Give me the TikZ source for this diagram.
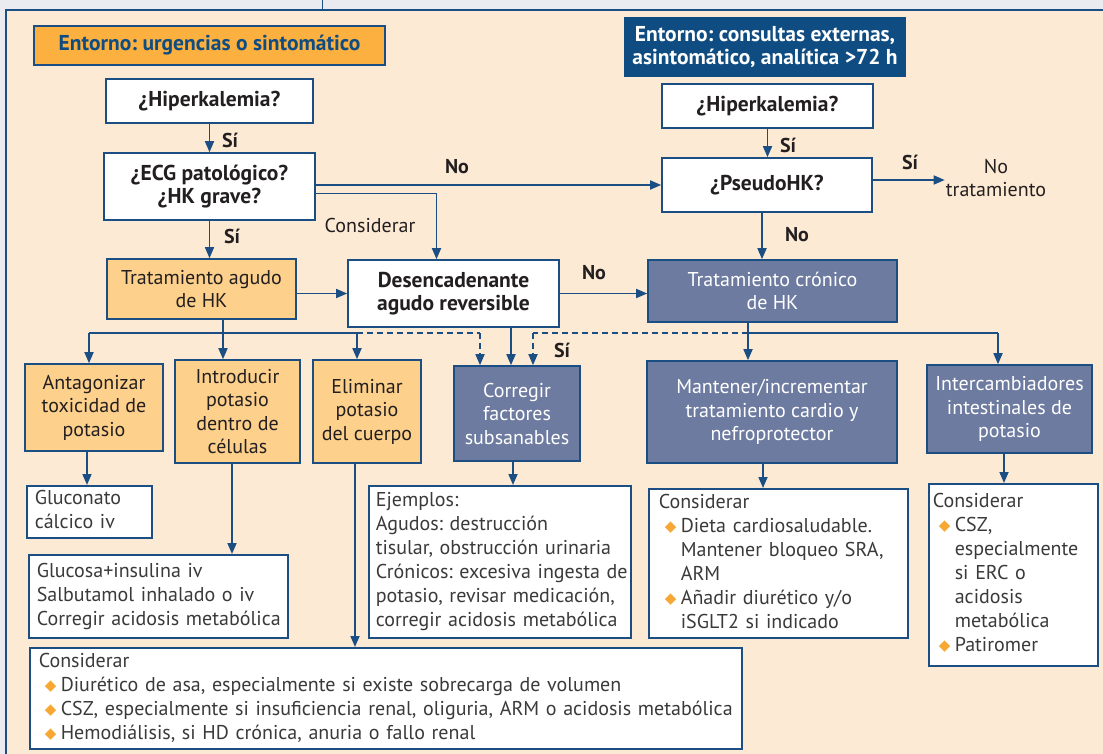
\documentclass[tikz,border=0pt]{standalone}
\usepackage{fontspec}
\setmainfont{PT Sans}
\newfontfamily\symfont{DejaVu Sans}
\usetikzlibrary{arrows.meta,calc}
\definecolor{bl}{HTML}{1B4F83}
\definecolor{bgc}{HTML}{FDEAD4}
\definecolor{greyc}{HTML}{E9EBF0}
\definecolor{hdro}{HTML}{FBB040}
\definecolor{lor}{HTML}{FDD08B}
\definecolor{dkb}{HTML}{0F4C81}
\definecolor{slate}{HTML}{6E7BA1}
\definecolor{bulc}{HTML}{F7A733}
\definecolor{txt}{HTML}{231F20}
\definecolor{ltxt}{HTML}{3A3A3A}
\frenchspacing
\newcommand\bul{\hspace*{6pt}\makebox[16pt][l]{\raisebox{1pt}{\symfont\fontsize{15}{15}\selectfont\color{bulc}◆}}}
\newcommand\ind{\hspace*{22pt}}
\newcommand\fs{\fontsize{20}{23.5}\selectfont}
\newcommand\fl{\fontsize{20}{24}\selectfont}
\newcommand\fb{\fontsize{21.5}{23.5}\selectfont\bfseries}
\begin{document}
\begin{tikzpicture}[x=1pt,y=-1pt,
  box/.style={draw=bl, line width=1.6pt, inner sep=2pt, align=center, font=\fs},
  wbox/.style={box, fill=white, text=txt, font=\fb},
  obox/.style={box, fill=lor, text=txt},
  sbox/.style={box, fill=slate, text=white},
  lbox/.style={draw=bl, line width=1.6pt, fill=white, text=ltxt, align=left, anchor=north west, inner ysep=2pt, font=\fl},
  arr/.style={draw=bl, line width=1.7pt, -{Triangle[length=11pt,width=9pt]}},
  ln/.style={draw=bl, line width=1.7pt},
  dsh/.style={draw=bl, line width=1.7pt, dash pattern=on 6pt off 4pt},
  lab/.style={font=\fontsize{20}{24}\selectfont\bfseries, text=txt, inner sep=0pt},
  rlab/.style={font=\fs, text=txt, inner sep=0pt}
]
\useasboundingbox (0,0) rectangle (1103,754);
% background
\fill[greyc] (0,0) rectangle (1103,754);
\draw[bl, line width=1pt] (322,0) -- (322,10);
\filldraw[fill=bgc, draw=bl, line width=2.5pt] (6,10) rectangle (1115,770);

% headers
\node[box, fill=hdro, text=dkb, font=\fb, minimum width=351pt, minimum height=39pt] (hdrL) at (209.5,45.5) {Entorno: urgencias o sintomático};
\node[box, draw=none, fill=dkb, text=white, font=\fb, minimum width=282pt, minimum height=60pt] (hdrR) at (765,47) {Entorno: consultas externas,\\asintomático, analítica >72 h};

% decision boxes
\node[wbox, minimum width=207pt, minimum height=44pt] (hipL) at (209.5,101) {¿Hiperkalemia?};
\node[wbox, minimum width=211pt, minimum height=67pt] (ecg) at (209.5,186.5) {¿ECG patológico?\\¿HK grave?};
\node[wbox, minimum width=211pt, minimum height=44pt] (hipR) at (767.5,106) {¿Hiperkalemia?};
\node[wbox, minimum width=210pt, minimum height=54pt] (pseudo) at (767,185) {¿PseudoHK?};
\node[rlab, align=center, inner sep=1pt] (notrat) at (996,178) {No\\tratamiento};

\node[obox, minimum width=189pt, minimum height=60pt] (agudo) at (201.5,289) {Tratamiento agudo\\de HK};
\node[wbox, minimum width=211pt, minimum height=67pt] (desenc) at (453.5,293.5) {Desencadenante\\agudo reversible};
\node[sbox, minimum width=249pt, minimum height=62pt] (cronico) at (772.5,291) {Tratamiento crónico\\de HK};

\node[obox, minimum width=138pt, minimum height=87pt] (antag) at (94,407.5) {Antagonizar\\toxicidad de\\potasio};
\node[obox, minimum width=125pt, minimum height=103pt] (intro) at (237.5,411.5) {Introducir\\potasio\\dentro de\\células};
\node[obox, minimum width=108pt, minimum height=103pt] (elim) at (367,411.5) {Eliminar\\potasio\\del cuerpo};
\node[sbox, minimum width=126pt, minimum height=95pt] (correg) at (517,413.5) {Corregir\\factores\\subsanables};
\node[sbox, minimum width=250pt, minimum height=102pt] (mant) at (772,412) {Mantener/incrementar\\tratamiento cardio y\\nefroprotector};
\node[sbox, minimum width=165pt, minimum height=88pt] (inter) at (1009.5,409) {Intercambiadores\\intestinales de\\potasio};

% list boxes
\node[lbox, inner xsep=8pt, text width=109pt, minimum height=49pt] (gluc) at (26,485) {\begin{tabular}{@{}l@{}}Gluconato\\cálcico iv\end{tabular}};
\node[lbox, inner xsep=8pt, text width=243pt, minimum height=83pt] (glucosa) at (28,554) {\begin{tabular}{@{}l@{}}Glucosa+insulina iv\\Salbutamol inhalado o iv\\Corregir acidosis metabólica\end{tabular}};
\node[lbox, inner xsep=7pt, text width=248pt, minimum height=152pt] (ejem) at (368,485) {\begin{tabular}{@{}l@{}}Ejemplos:\\Agudos: destrucción\\tisular, obstrucción urinaria\\Crónicos: excesiva ingesta de\\potasio, revisar medicación,\\corregir acidosis metabólica\end{tabular}};
\node[lbox, inner xsep=10pt, text width=239pt, minimum height=149pt] (consM) at (648,488) {\begin{tabular}{@{}l@{}}Considerar\\\bul Dieta cardiosaludable.\\\ind Mantener bloqueo SRA,\\\ind ARM\\\bul Añadir diurético y/o\\\ind iSGLT2 si indicado\end{tabular}};
\node[lbox, inner xsep=4pt, text width=161pt, minimum height=182pt] (consI) at (928,483) {\begin{tabular}{@{}l@{}}Considerar\\\bul CSZ,\\\ind especialmente\\\ind si ERC o\\\ind acidosis\\\ind metabólica\\\bul Patiromer\end{tabular}};
\node[lbox, inner xsep=9pt, text width=694pt, minimum height=101pt] (consB) at (29,647) {\begin{tabular}{@{}l@{}}Considerar\\\bul Diurético de asa, especialmente si existe sobrecarga de volumen\\\bul CSZ, especialmente si insuficiencia renal, oliguria, ARM o acidosis metabólica\\\bul Hemodiálisis, si HD crónica, anuria o fallo renal\end{tabular}};

% connectors top
\draw[arr] (hipL.south) -- (ecg.north);
\draw[arr] (ecg.south) -- (ecg.south |- agudo.north);
\draw[arr] (ecg.east |- pseudo.west) -- (pseudo.west);
\draw[arr] ([yshift=-7pt]ecg.east) -| ([xshift=-17pt]desenc.north);
\draw[arr] (hipR.south) -- (hipR.south |- pseudo.north);
\draw[arr] ([yshift=5pt]pseudo.east) -- ([yshift=5pt]pseudo.east -| notrat.west);
\draw[arr] ([xshift=-5pt]pseudo.south) -- ([xshift=-5pt]pseudo.south |- cronico.north);
\draw[arr] (agudo.east |- desenc.west) -- (desenc.west);
\draw[arr] (desenc.east) -- (desenc.east -| cronico.west);

% branches from agudo
\coordinate (busA) at (223,333);
\coordinate (busL) at (89,333);
\coordinate (busR) at (357,333);
\draw[ln] (agudo.south -| busA) -- (busA);
\draw[ln] (busL) -- (busR);
\draw[arr] (busL) -- (busL |- antag.north);
\draw[arr] (busA) -- (busA |- intro.north);
\draw[arr] (busR) -- (busR |- elim.north);
\coordinate (dA) at (480,333);
\draw[dsh] (busR) -- (dA);
\draw[dsh, -{Triangle[length=11pt,width=9pt]}] (dA) -- (dA |- correg.north);
\draw[arr] ([xshift=57.5pt]desenc.south) -- ([xshift=57.5pt]desenc.south |- correg.north);

% branches from cronico
\coordinate (busC) at (748,333);
\coordinate (busI) at (998,333);
\coordinate (dB) at (533,333);
\draw[arr] (cronico.south -| busC) -- (busC |- mant.north);
\draw[ln] (busC) -- (busI);
\draw[arr] (busI) -- (busI |- inter.north);
\draw[dsh] (busC) -- (dB);
\draw[dsh, -{Triangle[length=11pt,width=9pt]}] (dB) -- (dB |- correg.north);

% lower connectors
\coordinate (xa) at (87,0);
\coordinate (xi) at (232,0);
\coordinate (xe) at (355,0);
\coordinate (xc) at (513,0);
\coordinate (xm) at (763,0);
\coordinate (xn) at (1004,0);
\draw[arr] (antag.south -| xa) -- (gluc.north -| xa);
\draw[arr] (intro.south -| xi) -- (glucosa.north -| xi);
\draw[arr] (elim.south -| xe) -- (consB.north -| xe);
\draw[arr] (correg.south -| xc) -- (ejem.north -| xc);
\draw[arr] (mant.south -| xm) -- (consM.north -| xm);
\draw[arr] (inter.south -| xn) -- (consI.north -| xn);

% labels
\node[lab] (l1) at (230,140) {Sí};
\node[lab] (l2) at (457,167) {No};
\node[lab] (l3) at (232,236) {Sí};
\node[rlab] (l4) at (370,226) {Considerar};
\node[lab] (l5) at (788,145) {Sí};
\node[lab] (l6) at (910,162) {Sí};
\node[lab] (l7) at (797,235) {No};
\node[lab] (l8) at (594,273) {No};
\node[lab] (l9) at (562,350) {Sí};
\end{tikzpicture}
\end{document}
